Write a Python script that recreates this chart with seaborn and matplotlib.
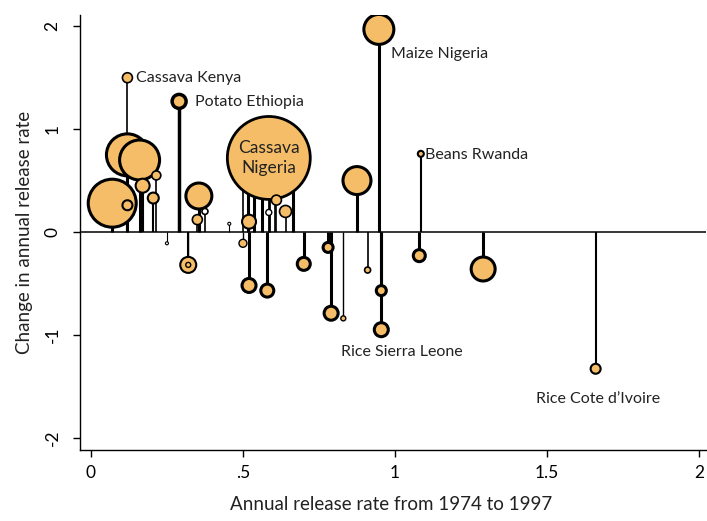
import matplotlib
matplotlib.use("Agg")
import matplotlib.pyplot as plt
import seaborn as sns
import numpy as np
import pandas as pd

# release rate (x), change in rate (y), bubble weight, line weight, fill
x = [0.516, 0.536, 0.563, 0.605, 0.664, 0.50, 0.585, 0.07, 0.12, 0.16,
     0.947, 0.875, 0.355, 1.29, 0.32, 0.29, 0.17, 0.52, 0.52, 0.955,
     0.79, 0.58, 0.70, 0.64, 1.08, 0.205, 0.12, 0.12, 0.35, 0.61,
     0.955, 1.66, 0.78, 0.215, 0.50, 0.375, 0.585, 1.085, 0.91, 0.83,
     0.32, 0.25, 0.455]
y = [0.55, 0.58, 0.55, 0.55, 0.50, 0.47, 0.72, 0.28, 0.75, 0.70,
     1.97, 0.50, 0.35, -0.36, -0.32, 1.27, 0.45, 0.10, -0.52, -0.95,
     -0.79, -0.57, -0.31, 0.20, -0.23, 0.33, 1.50, 0.26, 0.12, 0.31,
     -0.57, -1.33, -0.15, 0.55, -0.11, 0.20, 0.19, 0.76, -0.37, -0.84,
     -0.32, -0.11, 0.08]
weight = [4, 4, 4, 4, 4, 5, 41.5, 24, 21, 20,
          15, 14, 13, 12, 8, 7, 7, 7, 7, 7,
          7, 6.5, 6.5, 6, 6, 5.5, 5, 5, 5, 5,
          5, 5, 5, 4.5, 4, 3, 3, 3, 3, 2.5,
          2.5, 1.5, 1.5]
lw = [2.2, 2.2, 2.2, 1.2, 2.2, 1.2, 2.0, 2.2, 2.2, 2.2,
      2.2, 2.2, 2.2, 2.2, 1.5, 2.5, 1.5, 1.5, 2.2, 2.2,
      2.2, 2.2, 2.2, 1.2, 2.2, 1.5, 1.2, 1.5, 1.2, 1.2,
      2.2, 1.5, 2.2, 1.2, 1.0, 1.2, 1.0, 1.5, 1.2, 1.0,
      1.0, 0.8, 0.8]
fill = ['o'] * 35 + ['w', 'w'] + ['o'] * 4 + ['w', 'w']

labels = [("Cassava Kenya", 0.148, 1.50, 'left'),
          ("Potato Ethiopia", 0.342, 1.26, 'left'),
          ("Maize Nigeria", 0.987, 1.73, 'left'),
          ("Beans Rwanda", 1.10, 0.75, 'left'),
          ("Rice Sierra Leone", 1.023, -1.17, 'center'),
          ("Rice Cote d\u2019Ivoire", 1.668, -1.62, 'center')]

df = pd.DataFrame({'x': x, 'y': y, 'w': weight, 'lw': lw, 'fill': fill})

sns.set_style("white")
plt.rcParams['font.family'] = ['Lato', 'DejaVu Sans']

fig = plt.figure(figsize=(7.07, 5.21), dpi=100)
ax = fig.add_axes([80/707, 1-450/521, 626/707, 435/521])

ax.axhline(0, color='black', lw=1.1, zorder=1)
ax.vlines(df.x, 0, df.y, colors='black', linewidths=df.lw, zorder=2)
sns.scatterplot(data=df, x='x', y='y', hue='fill',
                palette={'o': '#F5BD67', 'w': 'white'},
                s=2.07 * df.w ** 2, edgecolor='black', linewidth=df.lw,
                legend=False, zorder=3, ax=ax)

for txt, tx, ty, ha in labels:
    ax.text(tx, ty, txt, ha=ha, va='center', fontsize=11.5, color='#222222')
ax.text(0.585, 0.72, "Cassava\nNigeria", ha='center', va='center',
        fontsize=12.5, zorder=4, linespacing=1.25, color='#222222')

ax.set_xlim(-0.036, 2.023)
ax.set_ylim(-2.12, 2.11)
ax.set_xticks([0, 0.5, 1, 1.5, 2])
ax.set_xticklabels(['0', '.5', '1', '1.5', '2'])
ax.set_yticks([-2, -1, 0, 1, 2])
ax.set_yticklabels(['-2', '-1', '0', '1', '2'], rotation=90, va='center')
ax.tick_params(direction='out', length=5, width=1, colors='black',
               labelsize=12.5, left=True, bottom=True)
ax.tick_params(axis='x', pad=6)
ax.tick_params(axis='y', pad=9)
sns.despine(ax=ax)
for sp in ['left', 'bottom']:
    ax.spines[sp].set_color('black')
    ax.spines[sp].set_linewidth(1)

ax.set_xlabel('Annual release rate from 1974 to 1997', fontsize=13.5,
              color='#222222')
ax.set_ylabel('Change in annual release rate', fontsize=13.5,
              color='#222222')
ax.xaxis.set_label_coords(0.497, -0.105)
ax.yaxis.set_label_coords(-0.075, 0.5)

plt.savefig('out.png', dpi=100)
